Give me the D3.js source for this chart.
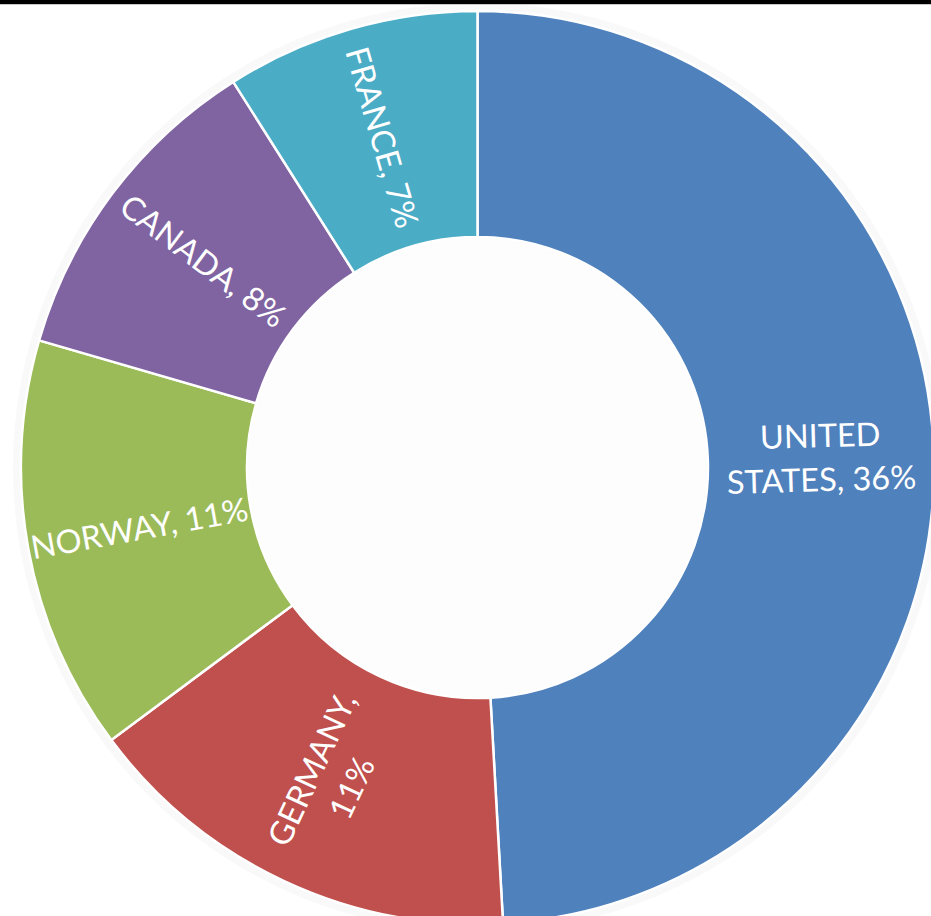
<!DOCTYPE html>
<html>
<head>
<meta charset="utf-8">
<script src="https://cdn.jsdelivr.net/npm/d3@7"></script>
<style>
  html, body { margin: 0; padding: 0; background: #ffffff; }
  svg { display: block; }
</style>
</head>
<body>
<svg id="chart" width="931" height="916"></svg>
<script>
// ---- data ----
const categories = ["UNITED STATES", "GERMANY", "NORWAY", "CANADA", "FRANCE"];
const values = [35.8, 11.45, 10.7, 8.4, 6.55];           // share (%) of total
const labelLines = [
  ["UNITED", "STATES, 36%"],
  ["GERMANY,", "11%"],
  ["NORWAY, 11%"],
  ["CANADA, 8%"],
  ["FRANCE, 7%"]
];
const colors = ["#4F81BD", "#C0504D", "#9BBB59", "#8064A2", "#4BACC6"];

// ---- layout ----
const W = 931, H = 916;
const cx = 477.5, cy = 467.5;
const rOuter = 456.5, rInner = 230.5;

const svg = d3.select("#chart");
svg.append("rect").attr("x", 0).attr("y", 0).attr("width", W).attr("height", H).attr("fill", "#ffffff");

const g = svg.append("g").attr("transform", `translate(${cx},${cy})`);

// very faint outer glow
g.append("circle").attr("r", rOuter + 4).attr("fill", "none")
  .attr("stroke", "#f9f9f9").attr("stroke-width", 8);

const data = categories.map((c, i) => ({ name: c, value: values[i], lines: labelLines[i], color: colors[i] }));

const pie = d3.pie().value(d => d.value).sort(null).startAngle(0).endAngle(2 * Math.PI);
const arcs = pie(data);
const arc = d3.arc().innerRadius(rInner).outerRadius(rOuter);

g.selectAll("path.slice")
  .data(arcs)
  .enter().append("path")
  .attr("class", "slice")
  .attr("d", arc)
  .attr("fill", d => d.data.color)
  .attr("stroke", "#ffffff")
  .attr("stroke-width", 2.5)
  .attr("stroke-linejoin", "round");

// hole
g.append("circle").attr("r", rInner - 1).attr("fill", "#fdfdfd");

// labels
const fontSize = 32.5;
const lineH = 44;
const labels = g.selectAll("g.label")
  .data(arcs)
  .enter().append("g")
  .attr("class", "label")
  .attr("transform", d => {
    const [x, y] = arc.centroid(d);
    const mid = (d.startAngle + d.endAngle) / 2 * 180 / Math.PI;
    const rot = mid < 180 ? mid - 90 : mid - 270;
    return `translate(${x},${y}) rotate(${rot})`;
  });

labels.each(function(d) {
  const n = d.data.lines.length;
  const t = d3.select(this).append("text")
    .attr("text-anchor", "middle")
    .attr("fill", "#ffffff")
    .attr("font-family", "Lato, 'Open Sans', sans-serif")
    .attr("font-size", fontSize);
  d.data.lines.forEach((ln, i) => {
    t.append("tspan")
      .attr("x", 0)
      .attr("y", (i - (n - 1) / 2) * lineH)
      .attr("dy", "0.35em")
      .text(ln);
  });
});

// top black frame edge
svg.append("rect").attr("x", 0).attr("y", 0).attr("width", W).attr("height", 4).attr("fill", "#000000");
svg.append("rect").attr("x", 0).attr("y", 4).attr("width", W).attr("height", 1).attr("fill", "#c8c8c8");
</script>
</body>
</html>
